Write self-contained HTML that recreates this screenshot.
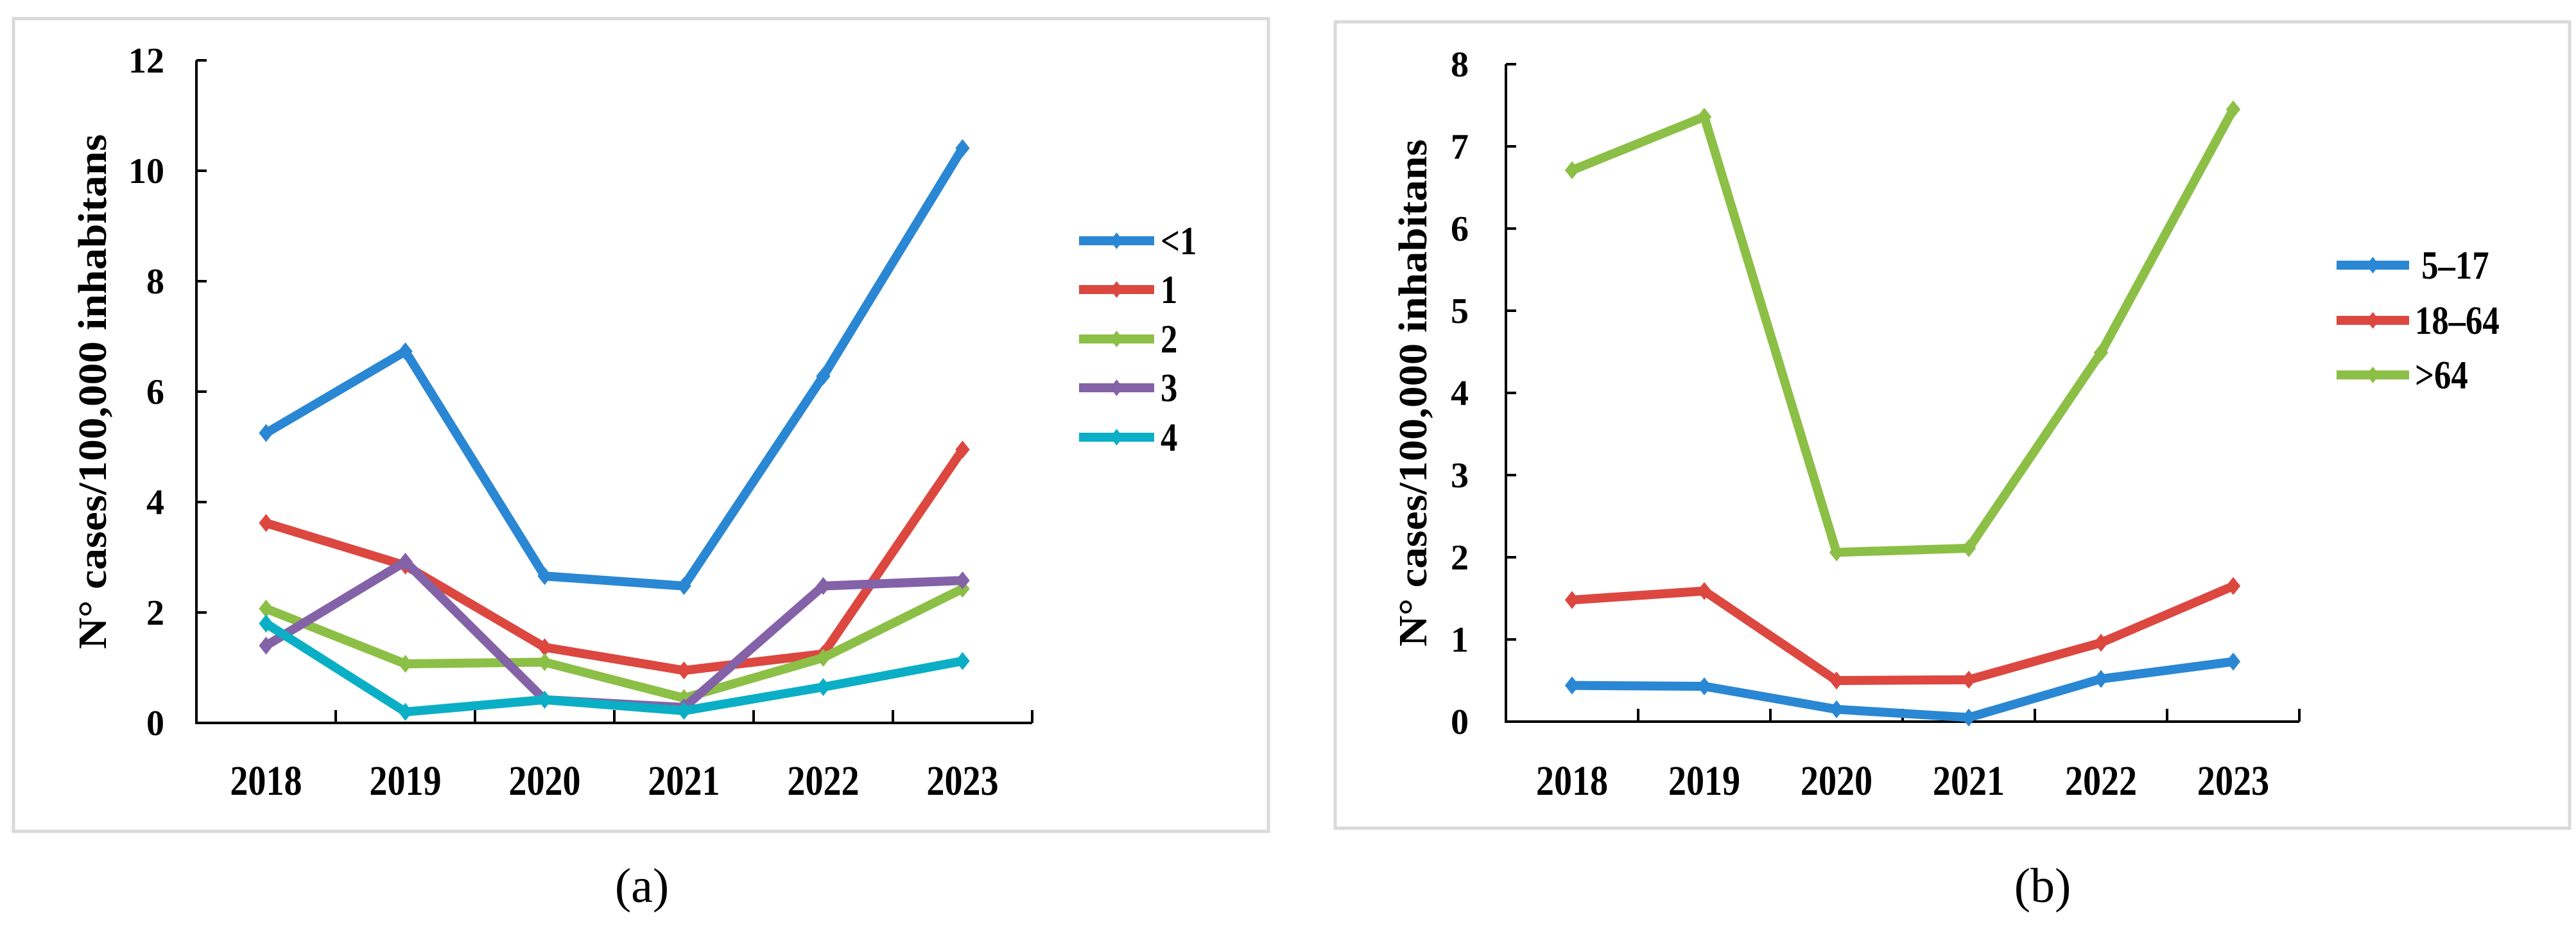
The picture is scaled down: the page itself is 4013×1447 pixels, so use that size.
<!DOCTYPE html>
<html><head><meta charset="utf-8"><style>
html,body{margin:0;padding:0;background:#fff;width:4013px;height:1447px;overflow:hidden}
svg{display:block}
text{font-family:"Liberation Serif",serif;font-weight:bold;fill:#000}
</style></head><body>
<svg id="s" width="4013" height="1447" xmlns="http://www.w3.org/2000/svg"></svg>
<script>
const years = ["2018","2019","2020","2021","2022","2023"];
const ticksA = [0,2,4,6,8,10,12];
const ticksB = [0,1,2,3,4,5,6,7,8];
const namesA = ["<1","1","2","3","4"];
const lt1 = [5.25,6.73,2.66,2.48,6.28,10.41];
const age1 = [3.62,2.85,1.37,0.95,1.25,4.95];
const age2 = [2.07,1.07,1.10,0.45,1.18,2.43];
const age3 = [1.40,2.92,0.42,0.28,2.48,2.58];
const age4 = [1.80,0.20,0.42,0.22,0.65,1.12];
const namesB = ["5\u201317","18\u201364",">64"];
const g517 = [0.44,0.43,0.15,0.05,0.52,0.73];
const g1864 = [1.48,1.59,0.50,0.51,0.96,1.65];
const g64 = [6.71,7.36,2.06,2.11,4.49,7.45];

const colA = ["#2a87d3","#dc4740","#8cbf46","#8462a8","#0aafc6"];
const colB = ["#2a87d3","#dc4740","#8cbf46"];
const NS="http://www.w3.org/2000/svg";
const svg=document.getElementById('s');
function mk(tag,attrs,parent,txt){const e=document.createElementNS(NS,tag);for(const k in attrs)e.setAttribute(k,attrs[k]);if(txt!==undefined)e.textContent=txt;(parent||svg).appendChild(e);return e;}

function panel(cfg){
  const g=mk('g',{});
  
  
  const fr=mk('rect',{x:cfg.box[0],y:cfg.box[1],width:cfg.box[2]-cfg.box[0],height:cfg.box[3]-cfg.box[1],fill:'none',stroke:'#d9d9d9','stroke-width':5},g);
  
  
  const x0=cfg.x0, cw=cfg.cw, y0=cfg.y0, yTop=cfg.yTop, maxV=cfg.ticks[cfg.ticks.length-1];
  const X=i=>x0+cw*(i+0.5);
  const Y=v=>y0-(y0-yTop)*v/maxV;
  const ya=mk('line',{x1:x0,y1:yTop,x2:x0,y2:y0,stroke:'#000','stroke-width':4},g);
  
  
  const xa=mk('line',{x1:x0-2,y1:y0,x2:x0+cw*years.length,y2:y0,stroke:'#000','stroke-width':4},g);
  
  
  cfg.ticks.forEach(t=>{
    const y=Y(t);
    if(t>0){const tk=mk('line',{x1:x0,y1:y,x2:x0+16,y2:y,stroke:'#000','stroke-width':4},g);
      
      }
    const tl=mk('text',{x:cfg.tickX,y:y+19,'text-anchor':'end','font-size':56},g,String(t));
    
    
  });
  for(let i=1;i<=years.length;i++){
    const tk=mk('line',{x1:x0+cw*i,y1:y0,x2:x0+cw*i,y2:y0-20,stroke:'#000','stroke-width':4},g);
    
    
  }
  years.forEach((yr,i)=>{
    const t=mk('text',{x:X(i),y:1238,'text-anchor':'middle','font-size':66,transform:`translate(${X(i)},0) scale(0.85,1) translate(${-X(i)},0)`},g,yr);
    
    
  });
  const yt=mk('text',{x:0,y:0,'text-anchor':'middle','font-size':62,textLength:cfg.titleLen,lengthAdjust:'spacingAndGlyphs',transform:`translate(${cfg.titleX},${cfg.titleY}) rotate(-90)`},g,'N\u00b0 cases/100,000 inhabitans');
  
  
  cfg.series.forEach((d,si)=>{
    const col=cfg.colors[si];
    const sg=mk('g',{},g);
    
    
    const pts=d.map((v,i)=>X(i)+','+Y(v)).join(' ');
    mk('polyline',{points:pts,fill:'none',stroke:col,'stroke-width':14,'stroke-linejoin':'round'},sg);
    d.forEach((v,i)=>{
      const cx=X(i),cy=Y(v),r=14;
      const m=mk('polygon',{points:`${cx},${cy-r} ${cx+r*0.8},${cy} ${cx},${cy+r} ${cx-r*0.8},${cy}`,fill:col},sg);
      
      
    });
  });
  cfg.names.forEach((n,i)=>{
    const ly=cfg.legY[i];
    const lg=mk('g',{},g);
    
    
    mk('line',{x1:cfg.legX[0],y1:ly,x2:cfg.legX[1],y2:ly,stroke:cfg.colors[i],'stroke-width':14},lg);
    const mx=(cfg.legX[0]+cfg.legX[1])/2;
    mk('polygon',{points:`${mx},${ly-13} ${mx+10},${ly} ${mx},${ly+13} ${mx-10},${ly}`,fill:cfg.colors[i]},lg);
    mk('text',{x:cfg.legX[2]+(cfg.legOff?cfg.legOff[i]:0),y:ly+21,'font-size':62,transform:`translate(${cfg.legX[2]},0) scale(0.85,1) translate(${-cfg.legX[2]},0)`},lg,n);
  });
  const cap=mk('text',{x:cfg.cap[0],y:cfg.cap[1],'text-anchor':'middle','font-size':76,style:'font-weight:normal'},g,cfg.capText);
  
  
}

panel({name:'chart-a',box:[21,29,1976,1295],x0:306,cw:217,y0:1126,yTop:94,ticks:ticksA,tickX:256,
  titleX:165,titleY:610,titleLen:802,series:[lt1,age1,age2,age3,age4],colors:colA,names:namesA,
  legY:[375,451,528,604,681],legX:[1681,1798,1808],cap:[1000,1405],capText:'(a)'});
panel({name:'chart-b',box:[2080,34,4003,1290],x0:2346,cw:206,y0:1124,yTop:100,ticks:ticksB,tickX:2288,
  titleX:2222,titleY:612,titleLen:790,series:[g517,g1864,g64],colors:colB,names:namesB,
  legY:[413,499,584],legX:[3640,3753,3762],legOff:[12,0,0],cap:[3182,1405],capText:'(b)'});
</script>
</body></html>
